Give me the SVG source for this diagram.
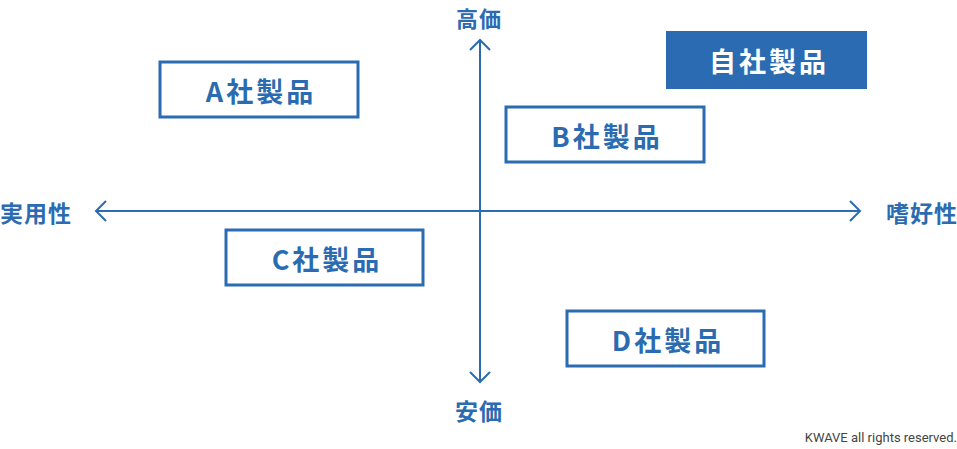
<svg xmlns="http://www.w3.org/2000/svg" width="957" height="449" viewBox="0 0 957 449">
<style>
.box{fill:#fff;stroke:#2a6bb1;stroke-width:3}
.lbl{font-family:"Noto Sans CJK JP","Noto Sans",sans-serif;font-weight:bold;font-size:27px;fill:#2a6bb1;letter-spacing:3px;text-anchor:middle;dominant-baseline:central}
.ax{font-family:"Noto Sans CJK JP",sans-serif;font-weight:bold;font-size:23px;fill:#2a6bb1;letter-spacing:1px;dominant-baseline:central}
.line{stroke:#2a6bb1;stroke-width:2;fill:none}
</style>
<rect width="957" height="449" fill="#fff"/>
<g id="connectors">
<line class="line" x1="96" y1="211" x2="860" y2="211"/>
<line class="line" x1="480" y1="40" x2="480" y2="382"/>
<polyline class="line" points="106,201 96,211 106,221"/>
<polyline class="line" points="850,201 860,211 850,221"/>
<polyline class="line" points="470,50 480,40 490,50"/>
<polyline class="line" points="470,372 480,382 490,372"/>
</g>
<g id="axis-top"><text class="ax" x="479" y="17" text-anchor="middle" style="font-size:22px">高価</text></g>
<g id="axis-bottom"><text class="ax" x="479" y="410" text-anchor="middle">安価</text></g>
<g id="axis-left"><text class="ax" x="0" y="212">実用性</text></g>
<g id="axis-right"><text class="ax" x="958" y="212" text-anchor="end">嗜好性</text></g>
<g id="self"><rect x="666" y="31" width="201" height="58" fill="#2a6bb1"/><text class="lbl" x="769" y="60" style="fill:#fff">自社製品</text></g>
<g id="A"><rect class="box" x="160" y="62" width="198" height="55"/><text class="lbl" x="261" y="90">A社製品</text></g>
<g id="B"><rect class="box" x="506" y="107" width="198" height="55"/><text class="lbl" x="607" y="135">B社製品</text></g>
<g id="C"><rect class="box" x="226" y="230" width="197" height="55"/><text class="lbl" x="327" y="258">C社製品</text></g>
<g id="D"><rect class="box" x="567" y="311" width="197" height="55"/><text class="lbl" x="668" y="339">D社製品</text></g>
<text x="957" y="442" text-anchor="end" font-family="Roboto,sans-serif" font-size="13" fill="#444">KWAVE all rights reserved.</text>
</svg>
